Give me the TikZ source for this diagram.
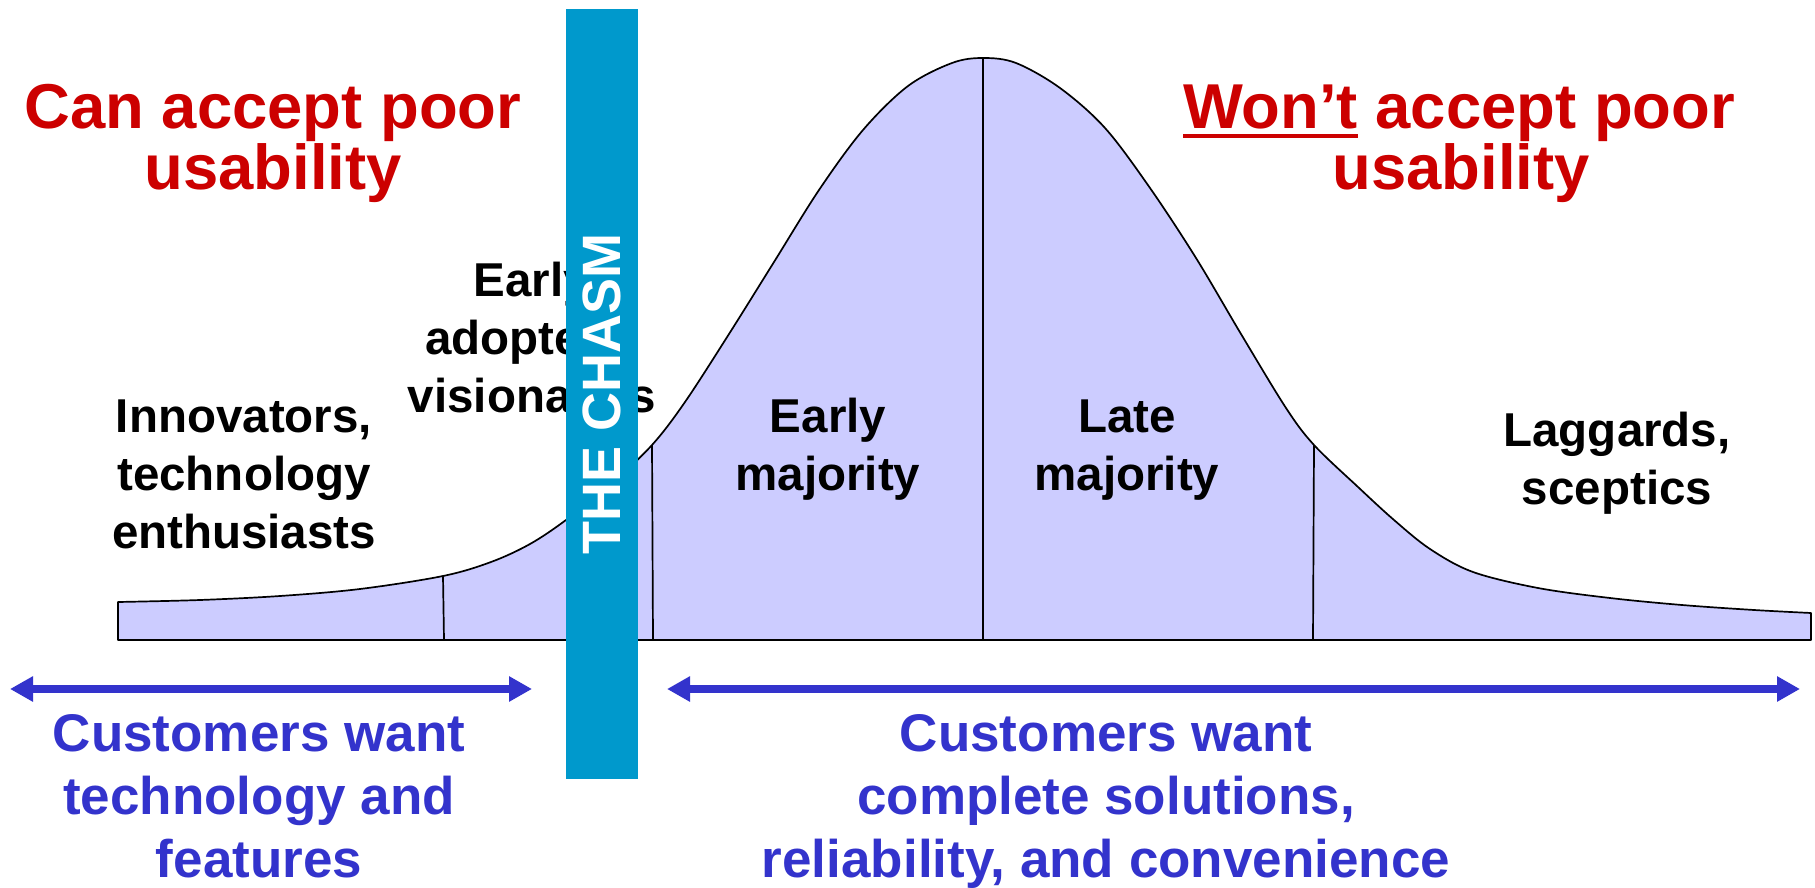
\documentclass[tikz,border=0pt]{standalone}
\usepackage{fontspec}
\setmainfont{Liberation Sans}
\usetikzlibrary{arrows.meta}
\definecolor{bellfill}{HTML}{CCCCFF}
\definecolor{chasmblue}{HTML}{0099CC}
\definecolor{redtxt}{HTML}{CC0000}
\definecolor{bluetxt}{HTML}{3333CC}
\begin{document}
\begin{tikzpicture}[x=0.5pt,y=-0.5pt,
  redlbl/.style={text=redtxt, font=\fontsize{31.7}{38}\selectfont\bfseries, inner sep=0pt, anchor=base},
  grouplbl/.style={text=black, font=\fontsize{23.75}{28}\selectfont\bfseries, inner sep=0pt, anchor=base},
  bluelbl/.style={text=bluetxt, font=\fontsize{26.5}{32}\selectfont\bfseries, inner sep=0pt, anchor=base},
  bell/.style={fill=bellfill, draw=black, line width=0.85pt, line join=round},
  divider/.style={draw=black, line width=0.85pt},
  chasmbar/.style={fill=chasmblue, draw=none, text=white, inner sep=0pt,
    minimum width=385pt, minimum height=36pt, font=\fontsize{27}{32}\selectfont\bfseries},
  spanarrow/.style={draw=bluetxt, line width=4pt,
    {Triangle[length=11.5pt,width=12pt]}-{Triangle[length=11.5pt,width=12pt]}}
]
\useasboundingbox (0,0) rectangle (1815,888);

% divider coordinates
\coordinate (d1t) at (443,576); \coordinate (d1b) at (444,640);
\coordinate (d2t) at (652,445); \coordinate (d2b) at (653,640);
\coordinate (d3t) at (983,58);  \coordinate (d3b) at (983,640);
\coordinate (d4t) at (1314,445); \coordinate (d4b) at (1313,640);

% bell curve
\path[bell] (118,640) -- plot[smooth, tension=0.55] coordinates {
  (118,602) (200,600) (280,596) (360,589) (443,576) (491,562) (530,544)
  (566,520) (610,485) (652,445) (685,402) (729,334) (774,262) (819,190)
  (863,130) (908,86) (952,63) (983,58) (1016,63) (1060,88) (1105,128)
  (1150,188) (1196,258) (1241,334) (1286,408) (1314,445) (1358,487)
  (1394,520) (1430,549) (1473,572) (1538,588) (1610,598) (1682,605)
  (1754,610) (1811,613)} -- (1811,640) -- cycle;
\draw[divider] (d1t) -- (d1b);
\draw[divider] (d2t) -- (d2b);
\draw[divider] (d3t) -- (d3b);
\draw[divider] (d4t) -- (d4b);

% red headings
\node[redlbl] (canA) at (273,129) {Can accept poor};
\node[redlbl] (canB) at (273,189) {usability};
\node[redlbl] (wontA) at (1459,128) {{\setbox0=\hbox{Won’t}\rlap{\rule[-4.8pt]{\wd0}{1.65pt}}\box0} accept poor};
\node[redlbl] (wontB) at (1461,189) {usability};

% group labels
\node[grouplbl] (innA) at (244,432) {Innovators,};
\node[grouplbl] (innB) at (244,490) {technology};
\node[grouplbl] (innC) at (244,548) {enthusiasts};
\node[grouplbl] (eaA) at (532,296) {Early};
\node[grouplbl] (eaB) at (532,354) {adopters,};
\node[grouplbl] (eaC) at (532,412) {visionaries};
\node[grouplbl] (emA) at (828,432) {Early};
\node[grouplbl] (emB) at (828,490) {majority};
\node[grouplbl] (lmA) at (1127,432) {Late};
\node[grouplbl] (lmB) at (1127,490) {majority};
\node[grouplbl] (lgA) at (1617,446) {Laggards,};
\node[grouplbl] (lgB) at (1617,504) {sceptics};

% the chasm
\node[chasmbar, rotate=90] (chasm) at (602,394) {THE CHASM};

% arrows
\coordinate (la1) at (10,689); \coordinate (la2) at (532,689);
\coordinate (ra1) at (667,689); \coordinate (ra2) at (1800,689);
\draw[spanarrow] (la1) -- (la2);
\draw[spanarrow] (ra1) -- (ra2);

% blue captions
\node[bluelbl] (cwA) at (259,751) {Customers want};
\node[bluelbl] (cwB) at (259,814) {technology and};
\node[bluelbl] (cwC) at (259,877) {features};
\node[bluelbl] (csA) at (1106,751) {Customers want};
\node[bluelbl] (csB) at (1106,814) {complete solutions,};
\node[bluelbl] (csC) at (1106,877) {reliability, and convenience};
\end{tikzpicture}
\end{document}
